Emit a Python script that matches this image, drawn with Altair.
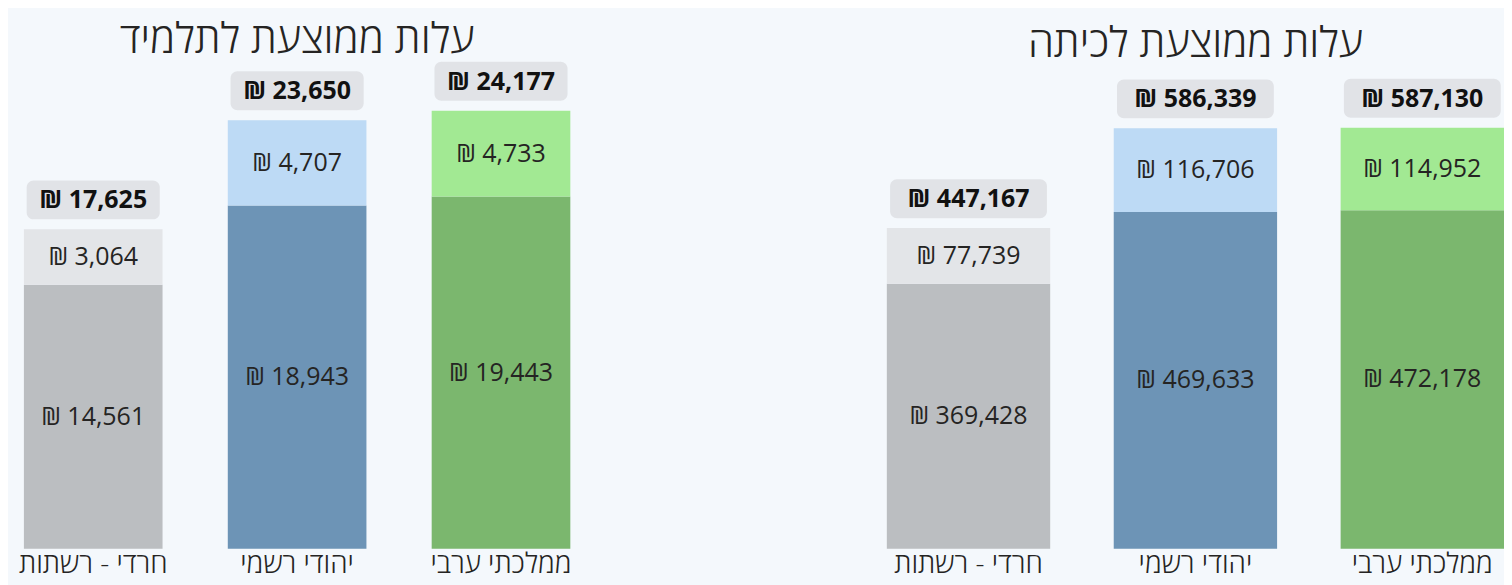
import altair as alt
import pandas as pd

categories = ["חרדי - רשתות", "יהודי רשמי", "ממלכתי ערבי"]
student_base = [14561, 18943, 19443]
student_extra = [3064, 4707, 4733]
student_total = [17625, 23650, 24177]
class_base = [369428, 469633, 472178]
class_extra = [77739, 116706, 114952]
class_total = [447167, 586339, 587130]
titles = ["עלות ממוצעת לתלמיד", "עלות ממוצעת לכיתה"]

base_colors = ["#BBBEC1", "#6D94B6", "#7BB76E"]
extra_colors = ["#E3E5E8", "#BDDAF5", "#A2E993"]

FONT = "Open Sans"
TXT = "#252423"

keys, colors = [], []
for c, bc, ec in zip(categories, base_colors, extra_colors):
    keys += [c + "|base", c + "|extra"]
    colors += [bc, ec]


def seg_frame(base_vals, extra_vals):
    rows = []
    for c, b, e in zip(categories, base_vals, extra_vals):
        rows.append({"cat": c, "order": 0, "value": b, "key": c + "|base"})
        rows.append({"cat": c, "order": 1, "value": e, "key": c + "|extra"})
    return pd.DataFrame(rows)


def tot_frame(tot_vals):
    return pd.DataFrame({"cat": categories, "total": tot_vals})


def panel(dseg, dtot, title, ymax, width, height, pin, pout):
    x = alt.X(
        "cat:N",
        sort=categories,
        scale=alt.Scale(paddingInner=pin, paddingOuter=pout),
        axis=alt.Axis(
            title=None, domain=False, ticks=False, labelAngle=0,
            labelFontSize=28, labelFont=FONT, labelFontWeight=300,
            labelColor=TXT, labelPadding=2, labelLimit=0,
        ),
    )
    ys = alt.Scale(domain=[0, ymax], nice=False, zero=True)
    base = (
        alt.Chart(dseg)
        .transform_stack(stack="value", groupby=["cat"], as_=["v0", "v1"],
                         sort=[alt.SortField("order")])
        .transform_calculate(mid="(datum.v0 + datum.v1) / 2",
                             label="'₪ ' + format(datum.value, ',')")
    )
    bars = base.mark_bar().encode(
        x=x,
        y=alt.Y("v0:Q", scale=ys, axis=None),
        y2="v1:Q",
        color=alt.Color("key:N", scale=alt.Scale(domain=keys, range=colors), legend=None),
    )
    seg_txt = base.mark_text(font=FONT, fontSize=25, color=TXT, baseline="middle").encode(
        x=x, y=alt.Y("mid:Q", scale=ys, axis=None), text="label:N"
    )
    tb = alt.Chart(dtot).transform_calculate(label="'₪ ' + format(datum.total, ',')")
    box = tb.mark_bar(color="#E1E3E7", cornerRadius=7, yOffset=-10, y2Offset=-49,
                      width=alt.RelativeBandSize(0.96)).encode(
        x=x, y=alt.Y("total:Q", scale=ys, axis=None), y2="total:Q"
    )
    tot_txt = tb.mark_text(font=FONT, fontSize=25, fontWeight="bold", color="#111111",
                           baseline="middle", dy=-29).encode(
        x=x, y=alt.Y("total:Q", scale=ys, axis=None), text="label:N"
    )
    return alt.layer(bars, seg_txt, box, tot_txt).properties(
        width=width, height=height,
        title=alt.TitleParams(title, fontSize=42, font=FONT, fontWeight=300,
                              color=TXT, offset=0),
    )


H = 483
left = panel(seg_frame(student_base, student_extra), tot_frame(student_total),
             titles[0], H / 0.018141, 579, H, 0.32, 0.078)
right = panel(seg_frame(class_base, class_extra), tot_frame(class_total),
              titles[1], H / 0.0007178, 618, H, 0.28, 0.0)

chart = (
    alt.hconcat(left, right, spacing=301, bounds="flush")
    .properties(background="#F4F8FC", padding={"top": 10, "left": 0, "right": 0, "bottom": 6})
    .configure_view(stroke=None)
)

chart.save("out.html", embed_options={"renderer": "svg", "actions": False})
